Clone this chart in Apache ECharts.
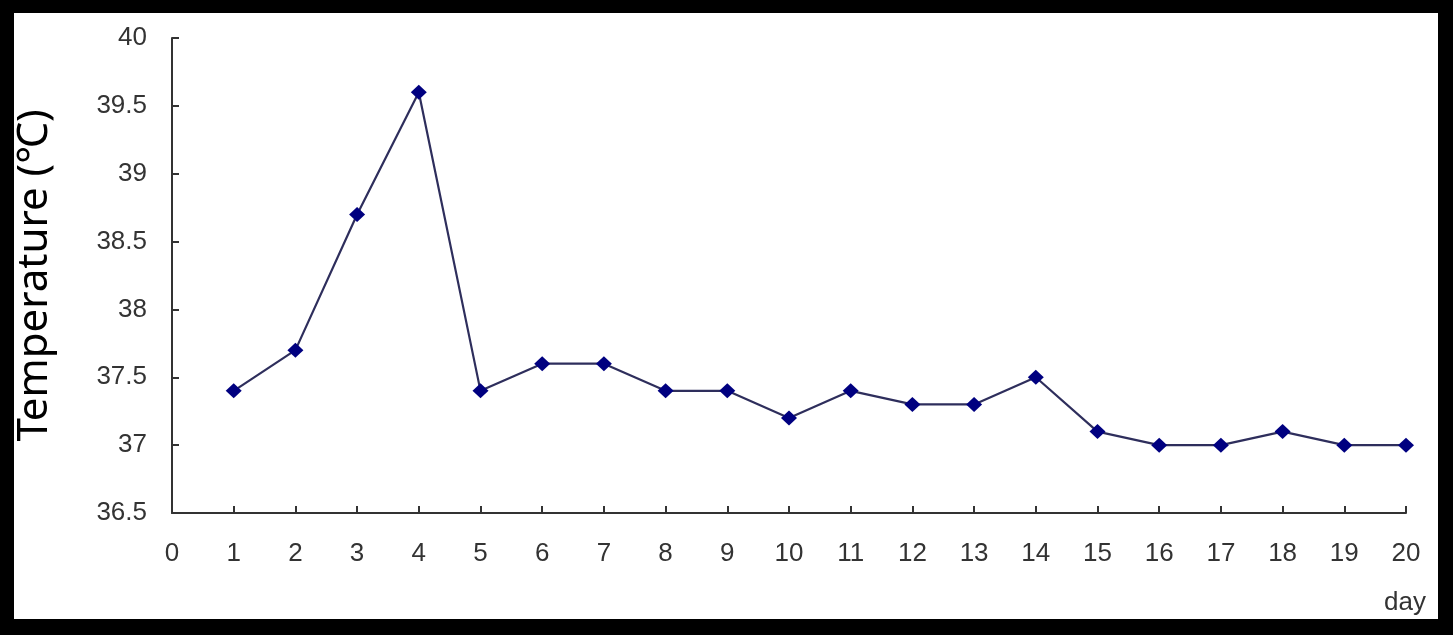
<!DOCTYPE html>
<html>
<head>
<meta charset="utf-8">
<script src="https://cdn.jsdelivr.net/npm/echarts@6/dist/echarts.min.js"></script>
<style>
html,body{margin:0;padding:0;background:#000;width:1453px;height:635px;overflow:hidden;}
#chart{position:absolute;left:14px;top:13px;width:1424px;height:606px;background:#fff;}
</style>
</head>
<body>
<div id="chart"></div>
<script>
const days = [1,2,3,4,5,6,7,8,9,10,11,12,13,14,15,16,17,18,19,20];
const temps = [37.4,37.7,38.7,39.6,37.4,37.6,37.6,37.4,37.4,37.2,37.4,37.3,37.3,37.5,37.1,37.0,37.0,37.1,37.0,37.0];
const yAxisName = 'Temperature (℃)';
const xAxisName = 'day';

const chart = echarts.init(document.getElementById('chart'));
const lab = {color:'#333', fontFamily:'Liberation Sans, Arial, sans-serif', fontSize:26};
chart.setOption({
  backgroundColor:'#fff',
  animation:false,
  title:{text:xAxisName, left:1365, top:572, textStyle:{color:'#333', fontFamily:'Liberation Sans, Arial, sans-serif', fontSize:26, fontWeight:'normal'}},
  grid:{left:158, top:25, right:32, bottom:106, containLabel:false, outerBoundsMode:'none'},
  xAxis:{type:'value', min:0, max:20, interval:1,
    axisLine:{lineStyle:{color:'#333', width:2}},
    axisTick:{inside:true, length:7, lineStyle:{color:'#333', width:2}},
    axisLabel:Object.assign({margin:28}, lab),
    splitLine:{show:false}},
  yAxis:{type:'value', min:36.5, max:40, interval:0.5,
    name:yAxisName, nameLocation:'middle', nameGap:116,
    nameTextStyle:{fontFamily:'Noto Sans, sans-serif', fontSize:42, color:'#000'},
    axisLine:{show:true, lineStyle:{color:'#333', width:2}},
    axisTick:{show:true, inside:true, length:7, lineStyle:{color:'#333', width:2}},
    axisLabel:Object.assign({margin:25}, lab),
    splitLine:{show:false}},
  series:[{type:'line', data:days.map((d,i)=>[d,temps[i]]),
    symbol:'diamond', symbolSize:[16,15],
    itemStyle:{color:'#000080'},
    lineStyle:{color:'#2e2e5c', width:2.2}}]
});
</script>
</body>
</html>
